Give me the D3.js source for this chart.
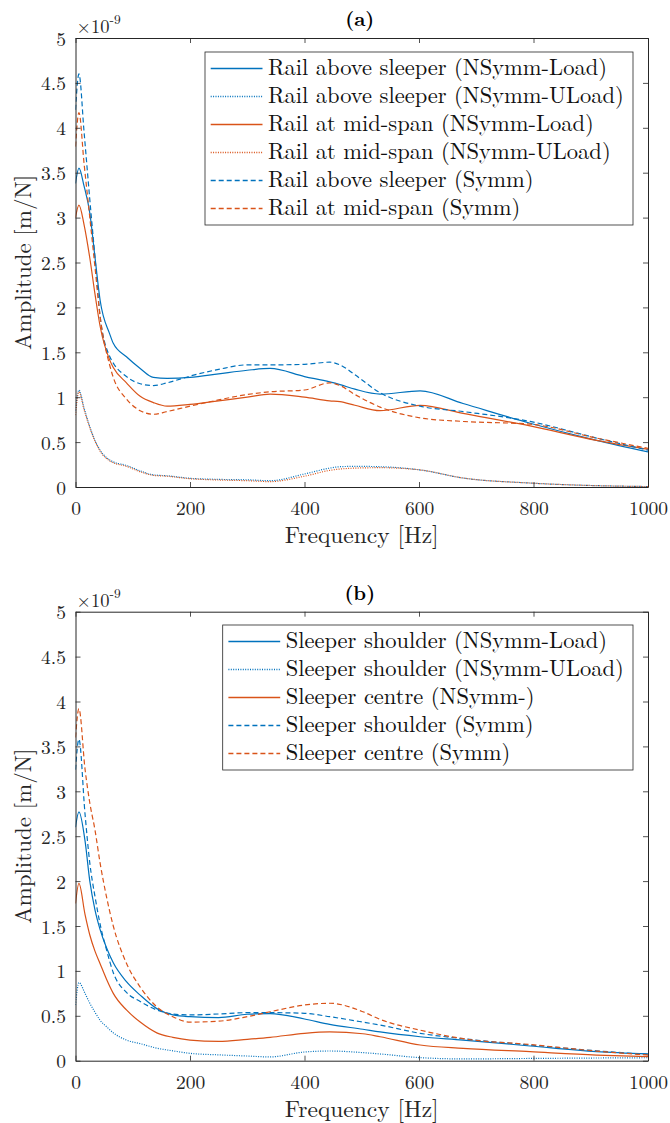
<!DOCTYPE html>
<html>
<head>
<meta charset="utf-8">
<script src="https://cdn.jsdelivr.net/npm/d3@7"></script>
</head>
<body style="margin:0;background:#fff">
<div id="chart"></div>
<script>
// frequencies [Hz] and amplitudes [x1e-9 m/N]
var freqA = [0, 6, 15, 25, 34, 43, 60, 66, 89, 113, 136, 160, 200, 250, 300, 340, 400, 444, 462, 488, 532, 602, 677, 794, 910, 1000];

var railSleeperLoad  = [3.38, 3.55, 3.35, 3.05, 2.56, 2.08, 1.70, 1.60, 1.45, 1.32, 1.22, 1.21, 1.22, 1.26, 1.30, 1.32, 1.23, 1.17, 1.14, 1.09, 1.035, 1.07, 0.93, 0.71, 0.52, 0.39];
var railSleeperULoad = [0.85, 1.08, 0.88, 0.67, 0.52, 0.41, 0.30, 0.28, 0.24, 0.18, 0.135, 0.125, 0.097, 0.085, 0.08, 0.07, 0.145, 0.21, 0.226, 0.23, 0.226, 0.19, 0.10, 0.044, 0.015, 0.005];
var railMidLoad      = [3.0, 3.14, 2.92, 2.55, 2.15, 1.79, 1.41, 1.33, 1.16, 1.01, 0.94, 0.90, 0.92, 0.96, 1.0, 1.035, 1.0, 0.96, 0.95, 0.91, 0.85, 0.91, 0.82, 0.68, 0.52, 0.42];
var railMidULoad     = [0.80, 1.06, 0.86, 0.66, 0.51, 0.40, 0.29, 0.27, 0.23, 0.17, 0.13, 0.12, 0.092, 0.078, 0.07, 0.06, 0.12, 0.185, 0.20, 0.21, 0.215, 0.19, 0.10, 0.044, 0.015, 0.005];
var railSleeperSymm  = [4.2, 4.6, 3.95, 3.2, 2.56, 1.9, 1.45, 1.38, 1.23, 1.15, 1.13, 1.16, 1.235, 1.31, 1.36, 1.36, 1.366, 1.39, 1.36, 1.25, 1.05, 0.90, 0.84, 0.73, 0.545, 0.41];
var railMidSymm      = [3.79, 4.17, 3.6, 3.0, 2.45, 1.9, 1.35, 1.22, 0.98, 0.85, 0.81, 0.84, 0.90, 0.97, 1.03, 1.06, 1.08, 1.16, 1.13, 1.03, 0.89, 0.77, 0.73, 0.70, 0.545, 0.43];

var freqB = [0, 6, 16.6, 25, 34, 43, 54, 66, 89, 113, 142, 170, 200, 250, 300, 340, 400, 444, 502, 532, 602, 677, 794, 910, 1000];

var sleeperShoulderLoad  = [2.6, 2.77, 2.45, 2.0, 1.68, 1.46, 1.26, 1.09, 0.88, 0.73, 0.58, 0.51, 0.49, 0.48, 0.517, 0.525, 0.464, 0.405, 0.35, 0.32, 0.267, 0.23, 0.164, 0.10, 0.075];
var sleeperShoulderULoad = [0.62, 0.87, 0.75, 0.64, 0.54, 0.45, 0.38, 0.31, 0.23, 0.19, 0.14, 0.11, 0.082, 0.065, 0.052, 0.042, 0.097, 0.108, 0.09, 0.075, 0.034, 0.02, 0.025, 0.03, 0.033];
var sleeperCentreLoad    = [1.75, 1.975, 1.63, 1.40, 1.22, 1.08, 0.91, 0.75, 0.565, 0.43, 0.31, 0.26, 0.23, 0.215, 0.238, 0.26, 0.305, 0.32, 0.30, 0.267, 0.175, 0.138, 0.10, 0.063, 0.045];
var sleeperShoulderSymm  = [3.24, 3.58, 2.75, 2.2, 1.83, 1.52, 1.24, 0.98, 0.76, 0.66, 0.565, 0.52, 0.51, 0.52, 0.535, 0.535, 0.528, 0.49, 0.43, 0.397, 0.305, 0.245, 0.175, 0.11, 0.07];
var sleeperCentreSymm    = [3.6, 3.92, 3.25, 2.87, 2.57, 2.2, 1.83, 1.50, 1.085, 0.82, 0.60, 0.49, 0.43, 0.44, 0.49, 0.545, 0.62, 0.64, 0.545, 0.46, 0.34, 0.245, 0.18, 0.107, 0.063];

var xTicks = [0, 200, 400, 600, 800, 1000];
var yTicks = [0, 0.5, 1, 1.5, 2, 2.5, 3, 3.5, 4, 4.5, 5];

var blue = "#0072BD", orange = "#D95319";
var styles = {
  solid:  null,
  dotted: "1,1.4",
  dashed: "5,3"
};

var panels = [
  {
    title: "(a)", top: 38, bottom: 487, freq: freqA,
    legend: {x: 205, y: 52, w: 428, h: 173},
    series: [
      {name: "Rail above sleeper (NSymm-Load)", values: railSleeperLoad, color: blue, dash: "solid"},
      {name: "Rail above sleeper (NSymm-ULoad)", values: railSleeperULoad, color: blue, dash: "dotted"},
      {name: "Rail at mid-span (NSymm-Load)", values: railMidLoad, color: orange, dash: "solid"},
      {name: "Rail at mid-span (NSymm-ULoad)", values: railMidULoad, color: orange, dash: "dotted"},
      {name: "Rail above sleeper (Symm)", values: railSleeperSymm, color: blue, dash: "dashed"},
      {name: "Rail at mid-span (Symm)", values: railMidSymm, color: orange, dash: "dashed"}
    ]
  },
  {
    title: "(b)", top: 611.7, bottom: 1060.7, freq: freqB,
    legend: {x: 222.7, y: 625, w: 410.3, h: 145},
    series: [
      {name: "Sleeper shoulder (NSymm-Load)", values: sleeperShoulderLoad, color: blue, dash: "solid"},
      {name: "Sleeper shoulder (NSymm-ULoad)", values: sleeperShoulderULoad, color: blue, dash: "dotted"},
      {name: "Sleeper centre (NSymm-)", values: sleeperCentreLoad, color: orange, dash: "solid"},
      {name: "Sleeper shoulder (Symm)", values: sleeperShoulderSymm, color: blue, dash: "dashed"},
      {name: "Sleeper centre (Symm)", values: sleeperCentreSymm, color: orange, dash: "dashed"}
    ]
  }
];

var width = 670, height = 1123;
var left = 75.5, right = 648;
var axisColor = "#262626";
var serif = "'Latin Modern Roman', 'Liberation Serif', serif";

var svg = d3.select("#chart").append("svg")
  .attr("width", width)
  .attr("height", height);

var x = d3.scaleLinear().domain([0, 1000]).range([left, right]);

panels.forEach(function(p) {
  var y = d3.scaleLinear().domain([0, 5]).range([p.bottom, p.top]);
  var g = svg.append("g");

  // clip so curves stay inside the box
  var clipId = "clip" + p.title.replace(/\W/g, "");
  g.append("clipPath").attr("id", clipId)
    .append("rect")
    .attr("x", left).attr("y", p.top)
    .attr("width", right - left).attr("height", p.bottom - p.top);

  var line = d3.line()
    .x(function(d, i) { return x(p.freq[i]); })
    .y(function(d) { return y(d); })
    .curve(d3.curveMonotoneX);

  var lines = g.append("g").attr("clip-path", "url(#" + clipId + ")");
  p.series.forEach(function(s) {
    lines.append("path")
      .attr("d", line(s.values))
      .attr("fill", "none")
      .attr("stroke", s.color)
      .attr("stroke-width", 1.2)
      .attr("stroke-dasharray", styles[s.dash]);
  });

  // axes: bottom/left with labels, top/right ticks only, all ticks inward
  var bottomAxis = d3.axisBottom(x).tickValues(xTicks).tickSizeInner(-5).tickSizeOuter(0).tickPadding(14)
    .tickFormat(d3.format("d"));
  var leftAxis = d3.axisLeft(y).tickValues(yTicks).tickSizeInner(-5).tickSizeOuter(0).tickPadding(9.5)
    .tickFormat(d3.format("~g"));
  var topAxis = d3.axisTop(x).tickValues(xTicks).tickSizeInner(-5).tickSizeOuter(0).tickFormat("");
  var rightAxis = d3.axisRight(y).tickValues(yTicks).tickSizeInner(-5).tickSizeOuter(0).tickFormat("");

  var axes = [
    g.append("g").attr("transform", "translate(0," + p.bottom + ")").call(bottomAxis),
    g.append("g").attr("transform", "translate(" + left + ",0)").call(leftAxis),
    g.append("g").attr("transform", "translate(0," + p.top + ")").call(topAxis),
    g.append("g").attr("transform", "translate(" + right + ",0)").call(rightAxis)
  ];
  axes.forEach(function(a) {
    a.select(".domain").attr("stroke", axisColor).attr("stroke-width", 1);
    a.selectAll(".tick line").attr("stroke", axisColor).attr("stroke-width", 0.8);
    a.selectAll(".tick text")
      .attr("fill", axisColor)
      .style("font-family", serif)
      .style("font-size", "19.5px");
  });
  axes[1].selectAll(".tick text").attr("dy", "0.36em");

  // exponent label
  var expo = g.append("text")
    .attr("x", left + 1)
    .attr("y", p.top - 5)
    .attr("fill", axisColor)
    .style("font-family", serif)
    .style("font-size", "18.5px");
  expo.append("tspan").text("\u00d710");
  expo.append("tspan").text("-9").attr("dy", -9).style("font-size", "13.5px");

  // title
  g.append("text")
    .text(p.title)
    .attr("x", (left + right) / 2 - 2)
    .attr("y", p.top - 12)
    .attr("text-anchor", "middle")
    .attr("fill", "black")
    .style("font-family", serif)
    .style("font-weight", "bold")
    .style("font-size", "20px");

  // axis labels
  g.append("text")
    .text("Frequency [Hz]")
    .attr("x", (left + right) / 2)
    .attr("y", p.bottom + 56)
    .attr("text-anchor", "middle")
    .attr("fill", axisColor)
    .style("font-family", serif)
    .style("font-size", "23.5px");

  g.append("text")
    .text("Amplitude [m/N]")
    .attr("transform", "translate(31," + ((p.top + p.bottom) / 2) + ") rotate(-90)")
    .attr("text-anchor", "middle")
    .attr("fill", axisColor)
    .style("font-family", serif)
    .style("font-size", "23px");

  // legend
  var lg = g.append("g");
  lg.append("rect")
    .attr("x", p.legend.x).attr("y", p.legend.y)
    .attr("width", p.legend.w).attr("height", p.legend.h)
    .attr("fill", "white")
    .attr("stroke", axisColor)
    .attr("stroke-width", 0.8);

  p.series.forEach(function(s, i) {
    var ry = p.legend.y + 16.5 + i * 28;
    lg.append("line")
      .attr("x1", p.legend.x + 5.7).attr("x2", p.legend.x + 57.5)
      .attr("y1", ry).attr("y2", ry)
      .attr("stroke", s.color)
      .attr("stroke-width", 1.3)
      .attr("stroke-dasharray", styles[s.dash]);
    lg.append("text")
      .text(s.name)
      .attr("x", p.legend.x + 63)
      .attr("y", ry + 6.7)
      .attr("fill", "#111")
      .style("font-family", serif)
      .style("font-size", "22.5px");
  });
});
</script>
</body>
</html>
